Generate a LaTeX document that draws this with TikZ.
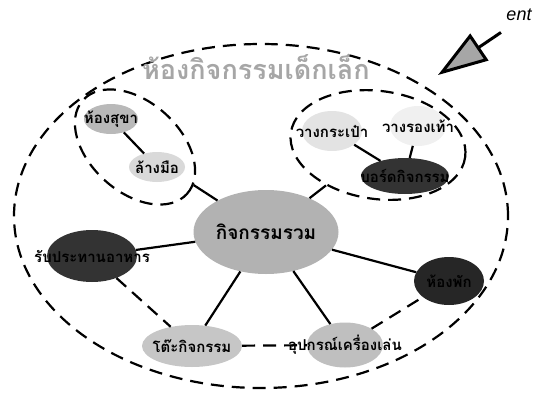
\documentclass[tikz,border=0pt]{standalone}
\usepackage{fontspec}
\newfontfamily\thai[Script=Thai]{Loma}
\newfontfamily\latin{Liberation Sans}
\usetikzlibrary{shapes.geometric,arrows.meta}

\begin{document}
\begin{tikzpicture}[x=1pt, y=-1pt, font=\thai\bfseries\fontsize{15}{15}\selectfont]
    \tikzstyle{zone} = [ellipse, draw, dash pattern=on 13pt off 8pt, line width=2.2pt, inner sep=0pt]
    \tikzstyle{spot} = [ellipse, draw=none, inner sep=0pt]
    \tikzstyle{light} = [spot, fill=gray!22]
    \tikzstyle{mid} = [spot, fill=gray!50]
    \tikzstyle{dark} = [spot, fill=black!80]
    \tikzstyle{link} = [draw, line width=2.2pt]
    \tikzstyle{walk} = [draw, dash pattern=on 13pt off 8pt, line width=2.2pt]

    \useasboundingbox (0,0) rectangle (546,399);

    % room and groups
    \node [zone, minimum width=494, minimum height=344] (room) at (261,216) {};
    \node [text=gray!70, font=\thai\bfseries\fontsize{27}{27}\selectfont] (title) at (256,67) {ห้องกิจกรรมเด็กเล็ก};
    \node [zone, minimum width=140, minimum height=90, rotate=-42] (leftgrp) at (135,147) {};
    \node [zone, minimum width=176, minimum height=108, rotate=-8] (rightgrp) at (378,145) {};

    % spots
    \node [mid, fill=gray!55, minimum width=54, minimum height=30, label=center:{ห้องสุขา}] (toilet) at (111,119) {};
    \node [light, fill=gray!30, minimum width=56, minimum height=30, label=center:{ล้างมือ}] (wash) at (157,167) {};
    \node [light, minimum width=60, minimum height=40, label=center:{วางกระเป๋า}] (bag) at (332,131) {};
    \node [light, fill=gray!12, minimum width=56, minimum height=40, label=center:{วางรองเท้า}] (shoe) at (418,126) {};
    \node [dark, minimum width=88, minimum height=36, label=center:{บอร์ดกิจกรรม}] (board) at (405,176) {};
    \node [mid, fill=gray!60, minimum width=145, minimum height=84, label=center:{\fontsize{19}{19}\selectfont กิจกรรมรวม}] (hub) at (266,232) {};
    \node [dark, minimum width=90, minimum height=52, label=center:{รับประทานอาหาร}] (eat) at (92,256) {};
    \node [dark, fill=black!85, minimum width=70, minimum height=48, label=center:{ห้องพัก}] (rest) at (449,281) {};
    \node [mid, fill=gray!45, minimum width=100, minimum height=42, label=center:{โต๊ะกิจกรรม}] (table) at (192,346) {};
    \node [mid, minimum width=76, minimum height=45, label=center:{อุปกรณ์เครื่องเล่น}] (toys) at (345,345) {};

    % entrance
    \node [font=\latin\itshape\fontsize{18}{18}\selectfont] (ent) at (519,15) {ent};
    \coordinate (door) at (438,75);

    \path [link] (hub) -- (leftgrp);
    \path [link] (hub) -- (rightgrp);
    \path [link] (hub) -- (eat);
    \path [link] (hub) -- (rest);
    \path [link] (hub) -- (table);
    \path [link] (hub) -- (toys);
    \path [link] (toilet) -- (wash);
    \path [link] (bag) -- (board);
    \path [link] (shoe) -- (board);

    \path [walk] (eat) -- (table);
    \path [walk] (table) -- (toys);
    \path [walk] (toys) -- (rest);

    \draw [line width=3pt, -{Triangle[length=50pt, width=32pt, fill=gray!70]}] (ent.south west) ++(-2,8) -- (door);
\end{tikzpicture}
\end{document}
